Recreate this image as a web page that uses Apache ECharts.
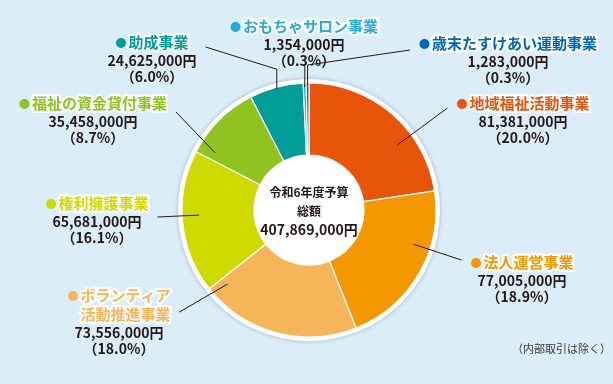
<!DOCTYPE html>
<html>
<head>
<meta charset="utf-8">
<script src="https://cdn.jsdelivr.net/npm/echarts@6/dist/echarts.min.js"></script>
<style>
html,body{margin:0;padding:0;background:#dbedf9;}
#c{width:613px;height:384px;}
</style>
</head>
<body>
<div id="c"></div>
<script>
// ---- data ----
const categories = ['地域福祉活動事業','法人運営事業','ボランティア\n活動推進事業','権利擁護事業','福祉の資金貸付事業','助成事業','おもちゃサロン事業','歳末たすけあい運動事業'];
const amounts = [81381000, 77005000, 73556000, 65681000, 35458000, 24625000, 1354000, 1283000];
const percents = ['20.0','18.9','18.0','16.1','8.7','6.0','0.3','0.3'];
const totalText = '407,869,000円';
const centerTitle = '令和6年度予算';
const centerSub = '総額';
const noteText = '（内部取引は除く）';

// ---- styles / layout ----
const colors = ['#e8540a','#f39800','#f7b55a','#cfdb00','#8fc31f','#009e96','#29a9e0','#0068b7'];
// label block: [centre x, top y, guide-line y offset from top, guide-line mode]
const labelPos = [[523,94,14,'d'],[522,253,7,'d'],[119,286,26,'d'],[97,194,23,'d'],[93,94,18,'d'],[152,33,14,'e'],[304,17,49,'v'],[508,34,16,'e']];
const FONT = '"Noto Sans CJK JP", "Noto Sans", sans-serif';
const PIE_CENTER = [309, 210];

const rich = {
  a: {fontFamily: FONT, fontSize: 14, fontWeight: 'bold', color: '#231815', lineHeight: 17},
  p: {fontFamily: FONT, fontSize: 14, fontWeight: 'bold', color: '#231815', lineHeight: 15},
  hd: {fontFamily: FONT, fontSize: 11, color: 'rgba(0,0,0,0)', lineHeight: 19, padding: [0,2,0,0]}
};
colors.forEach((c, i) => {
  rich['t' + i] = {fontFamily: FONT, fontSize: 15, fontWeight: 'bold', color: c,
    textBorderColor: '#ffffff', textBorderWidth: 4, lineHeight: 19};
  rich['d' + i] = {fontFamily: FONT, fontSize: 11, color: c, lineHeight: 19, padding: [0,2,0,0]};
});

function fmtNum(v){ return v.toString().replace(/\B(?=(\d{3})+(?!\d))/g, ','); }

const pieData = categories.map((name, i) => ({name: name, value: amounts[i], itemStyle: {color: colors[i]}}));
const labelData = categories.map((name, i) => ({name: name, value: amounts[i]}));

const chart = echarts.init(document.getElementById('c'), null, {renderer: 'canvas'});

function guidePoints(params) {
  const cfg = labelPos[params.dataIndex];
  const lr = params.labelRect;
  const rect = {x: cfg[0] - lr.width / 2, y: cfg[1], width: lr.width, height: lr.height};
  let lay;
  try {
    lay = chart.getModel().getSeriesByIndex(2).getData().getItemLayout(params.dataIndex);
  } catch (e) { lay = null; }
  if (!lay) return null;
  const cx = lay.cx, cy = lay.cy;
  const sa = Math.min(lay.startAngle, lay.endAngle), ea = Math.max(lay.startAngle, lay.endAngle);
  const mid = (sa + ea) / 2;
  const mode = cfg[3];
  const rightSide = cfg[0] > cx;
  const endY = rect.y + cfg[2];
  const endX = rightSide ? rect.x - 8 : rect.x + rect.width + 8;
  if (mode === 'v') {
    const s = [cx + 123 * Math.cos(mid), cy + 123 * Math.sin(mid)];
    const e = [s[0], endY];
    return [s, [s[0], (s[1] + e[1]) / 2], e];
  }
  if (mode === 'e') {
    const s = [cx + 125 * Math.cos(mid), cy + 125 * Math.sin(mid)];
    const m = [s[0], s[1] - 20];
    return [s, m, [endX, endY]];
  }
  let a = Math.atan2(endY - cy, endX - cx);
  if (a < sa - 1e-6) a += Math.PI * 2;
  const mg = Math.min(0.07, (ea - sa) / 4);
  a = Math.max(sa + mg, Math.min(ea - mg, a));
  const s = [cx + 110 * Math.cos(a), cy + 110 * Math.sin(a)];
  return [s, [(s[0] + endX) / 2, (s[1] + endY) / 2], [endX, endY]];
}

chart.setOption({
  backgroundColor: '#dbedf9',
  animation: false,
  title: [{
    text: '{a|' + centerTitle + '}\n{b|' + centerSub + '}\n{c|' + totalText + '}',
    left: PIE_CENTER[0], top: 182, textAlign: 'center', padding: 0,
    textStyle: {rich: {
      a: {fontFamily: FONT, fontSize: 12, fontWeight: 'bold', color: '#231815', lineHeight: 20},
      b: {fontFamily: FONT, fontSize: 12, fontWeight: 'bold', color: '#231815', lineHeight: 19},
      c: {fontFamily: FONT, fontSize: 14, fontWeight: 'bold', color: '#231815', lineHeight: 18}
    }}
  }, {
    text: noteText, right: 2, top: 343, padding: 0,
    textStyle: {fontFamily: FONT, fontSize: 11, fontWeight: 'normal', color: '#3e3a39'}
  }],
  series: [{
    type: 'pie', silent: true, center: PIE_CENTER, radius: [0, 131],
    label: {show: false}, labelLine: {show: false},
    itemStyle: {color: '#ffffff', shadowBlur: 4, shadowColor: 'rgba(60,80,100,0.35)'},
    data: [{value: 1, name: 'base'}], z: 1
  }, {
    type: 'pie', silent: true, center: PIE_CENTER, radius: [55, 127],
    startAngle: 90, clockwise: true,
    label: {show: false}, labelLine: {show: false},
    itemStyle: {borderColor: '#ffffff', borderWidth: 1.2},
    data: pieData, z: 2
  }, {
    type: 'pie', silent: true, center: PIE_CENTER, radius: [55, 110],
    startAngle: 90, clockwise: true, avoidLabelOverlap: false,
    itemStyle: {color: 'rgba(0,0,0,0)'},
    label: {
      show: true, position: 'outside',
      formatter: function (p) {
        const i = p.dataIndex;
        const titleLines = categories[i].split('\n');
        let s = titleLines.map((t, k) => (k === 0 ? '{d' + i + '|●}' : '{hd|●}') + '{t' + i + '|' + t + '}').join('\n');
        s += '\n{a|' + fmtNum(amounts[i]) + '円}';
        s += '\n{p|（' + percents[i] + '%）}';
        return s;
      },
      rich: rich
    },
    labelLine: {show: true, length: 10, length2: 4, lineStyle: {color: '#231815', width: 1}},
    labelLayout: function (params) {
      const pos = labelPos[params.dataIndex];
      const out = {x: pos[0], y: pos[1], align: 'center', verticalAlign: 'top'};
      const pts = guidePoints(params);
      if (pts) out.labelLinePoints = pts;
      return out;
    },
    data: labelData, z: 3
  }]
});
</script>
</body>
</html>
